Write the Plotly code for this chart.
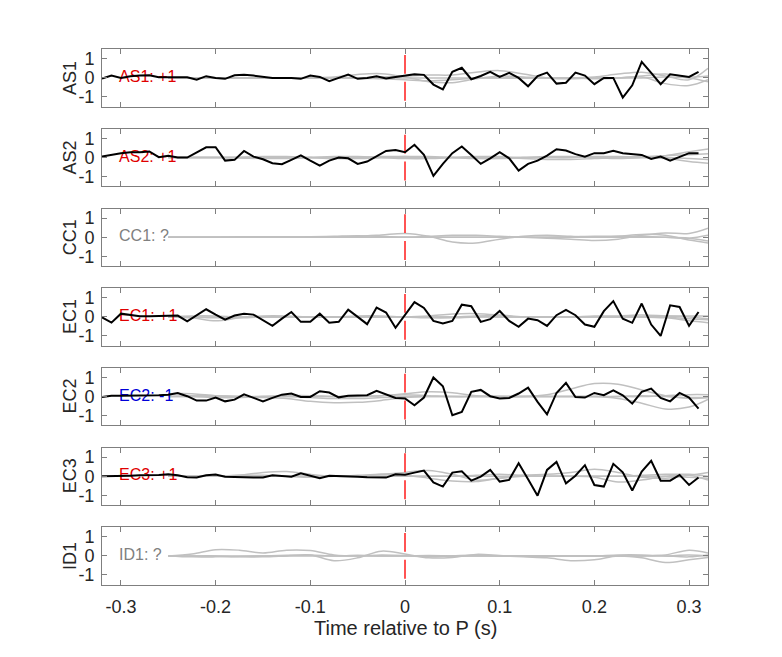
import plotly.graph_objects as go

# station names and polarity labels
stations = ["AS1", "AS2", "CC1", "EC1", "EC2", "EC3", "ID1"]
labels = ["AS1: +1", "AS2: +1", "CC1: ?", "EC1: +1", "EC2: -1", "EC3: +1", "ID1: ?"]
label_colors = ["#e00000", "#e00000", "#808080", "#e00000", "#0000d8", "#e00000", "#808080"]

# black trace time axis (s), every 0.01 from -0.32 to 0.31
t_black = [-0.32, -0.31, -0.30, -0.29, -0.28, -0.27, -0.26, -0.25, -0.24, -0.23, -0.22,
           -0.21, -0.20, -0.19, -0.18, -0.17, -0.16, -0.15, -0.14, -0.13, -0.12, -0.11,
           -0.10, -0.09, -0.08, -0.07, -0.06, -0.05, -0.04, -0.03, -0.02, -0.01,
           0.00, 0.01, 0.02, 0.03, 0.04, 0.05, 0.06, 0.07, 0.08, 0.09, 0.10, 0.11,
           0.12, 0.13, 0.14, 0.15, 0.16, 0.17, 0.18, 0.19, 0.20, 0.21, 0.22, 0.23,
           0.24, 0.25, 0.26, 0.27, 0.28, 0.29, 0.30, 0.31]

as1_black = [-0.03, 0.12, 0.0, 0.09, 0.12, 0.14, 0.03, 0.03, 0.03, 0.03, -0.09,
             0.09, 0.0, -0.05, 0.14, 0.17, 0.12, 0.05, 0.0, 0.0, 0.0, -0.05,
             0.12, 0.05, -0.17, 0.0, 0.17, -0.05, 0.0, 0.09, -0.03, 0.05,
             0.1, 0.19, 0.16, -0.35, -0.6, 0.32, 0.53, -0.07, 0.1, 0.32, 0.05, 0.26,
             0.0, -0.44, 0.1, 0.28, -0.3, -0.25, 0.28, 0.12, -0.33, 0.0, 0.0, -1.03,
             -0.39, 0.84, 0.26, -0.33, 0.19, 0.12, 0.05, 0.32]

as2_black = [0.05, 0.14, 0.23, 0.28, 0.28, 0.32, 0.02, 0.1, 0.0, 0.0, 0.27,
             0.54, 0.54, -0.16, -0.12, 0.35, 0.05, -0.09, -0.3, -0.35, -0.12, 0.12,
             -0.16, -0.42, -0.16, 0.0, -0.04, -0.33, -0.21, 0.05, 0.35, 0.4,
             0.28, 0.67, 0.14, -0.96, -0.33, 0.23, 0.58, 0.14, -0.33, -0.04, 0.28, -0.04,
             -0.68, -0.33, -0.16, 0.1, 0.44, 0.37, 0.18, 0.05, 0.23, 0.23, 0.35, 0.23,
             0.18, 0.14, -0.07, 0.05, -0.16, 0.02, 0.23, 0.23]

ec1_black = [-0.03, -0.3, 0.17, 0.09, 0.03, 0.03, 0.05, 0.07, 0.07, -0.23, 0.09,
             0.4, 0.12, -0.14, 0.07, 0.16, 0.12, -0.17, -0.47, -0.09, 0.26, -0.26,
             -0.26, 0.17, -0.31, -0.26, 0.38, 0.0, -0.38, 0.49, 0.23, -0.57,
             0.1, 0.78, 0.47, -0.21, -0.35, -0.21, 0.64, 0.56, -0.26, -0.12, 0.31, -0.21,
             -0.52, -0.09, -0.17, -0.47, 0.09, 0.37, 0.09, -0.4, -0.52, 0.3, 0.83, -0.09,
             -0.31, 0.7, -0.4, -1.0, 0.61, 0.52, -0.47, 0.26]

ec2_black = [-0.02, 0.04, 0.04, 0.04, 0.05, 0.05, 0.07, 0.1, 0.19, 0.02, -0.21,
             -0.21, -0.05, -0.25, -0.16, 0.12, -0.05, -0.25, -0.07, 0.1, 0.16, -0.02,
             -0.02, 0.28, 0.21, -0.04, 0.04, 0.05, 0.07, 0.3, 0.1, -0.07,
             -0.1, -0.46, -0.05, 1.0, 0.54, -0.98, -0.81, 0.25, 0.35, 0.02, -0.1, -0.07,
             0.16, 0.47, -0.28, -0.93, 0.19, 0.72, -0.02, -0.05, 0.19, 0.07, 0.33, 0.07,
             -0.37, 0.25, 0.42, -0.07, -0.25, 0.19, -0.05, -0.63]

ec3_black = [0.0, 0.0, 0.02, 0.03, 0.05, 0.05, 0.07, 0.1, 0.05, -0.05, -0.07,
             0.05, 0.09, -0.02, -0.05, -0.05, -0.07, -0.07, 0.05, 0.02, -0.02, 0.16,
             0.02, -0.1, 0.03, 0.02, -0.02, -0.02, -0.05, -0.05, -0.07, 0.1,
             0.08, 0.19, 0.3, -0.32, -0.54, 0.19, 0.26, -0.23, -0.02, 0.33, -0.28, -0.19,
             0.68, -0.16, -1.02, 0.33, 0.75, -0.37, 0.03, 0.58, -0.46, -0.54, 0.65, 0.21,
             -0.75, 0.25, 0.81, -0.23, -0.23, 0.07, -0.46, -0.07]

black = {"AS1": as1_black, "AS2": as2_black, "EC1": ec1_black,
         "EC2": ec2_black, "EC3": ec3_black}

# grey traces: knots every 0.025 s from -0.25 to 0.32
t_grey = [-0.25, -0.225, -0.2, -0.175, -0.15, -0.125, -0.1, -0.075, -0.05, -0.025, 0.0,
          0.025, 0.05, 0.075, 0.1, 0.125, 0.15, 0.175, 0.2, 0.225, 0.25, 0.275, 0.3, 0.32]

as1_grey = [
    [0, 0, 0, 0, 0, 0, 0.02, 0.05, 0.18, 0.22, 0.05, -0.2, -0.25, -0.05, 0.1, 0.05, 0, 0, 0.05, 0.2, 0.3, 0.1, -0.1, 0.5],
    [0, 0, 0, 0, 0, 0, 0, 0, 0, 0.05, 0.1, 0.15, 0.15, 0.3, 0.38, 0.2, 0, -0.05, 0, 0, 0.05, -0.3, -0.4, -0.1],
    [0, 0, 0, 0, 0, 0, 0, 0, 0, -0.05, -0.1, -0.15, -0.1, 0, 0, 0, 0, 0, -0.05, 0, 0.1, 0.2, 0.05, 0.1],
    [0, 0, 0, 0, 0, 0, 0, 0, 0, 0, 0, 0, 0, 0, 0, 0, 0, 0, 0, 0, 0, 0.05, 0, -0.2],
]
as2_grey = [
    [0, 0, 0, 0.02, 0.05, 0.05, 0, -0.05, -0.05, 0, 0.05, 0.05, 0, -0.05, -0.05, 0, 0.05, 0.05, 0, -0.05, 0, 0.1, 0.3, 0.45],
    [0, 0, 0, -0.02, -0.05, -0.05, 0, 0.05, 0.05, 0, -0.05, -0.05, 0, 0.05, 0.05, -0.05, -0.1, -0.1, -0.05, 0, 0, -0.05, -0.2, -0.3],
    [0, 0, 0, 0, 0, 0, 0, 0, 0, 0.05, 0.05, 0, 0, 0, 0, 0, 0, 0, 0.05, 0.05, 0.05, 0.1, 0.15, 0.2],
    [0, 0, 0, 0, 0, 0, 0, 0, 0, 0, 0, 0, 0, 0, 0, 0, 0, 0, 0, 0, 0, 0, -0.05, -0.1],
]
cc1_grey = [
    [0, 0, 0, 0, 0, 0, 0, 0.02, 0.05, 0.12, 0.2, 0.05, -0.25, -0.3, -0.1, 0.05, 0.1, 0.05, 0, 0.05, 0.15, 0.1, -0.15, -0.3],
    [0, 0, 0, 0, 0, 0, 0.02, 0.05, 0.08, 0.05, 0, 0.05, 0.1, 0.1, 0.05, 0, -0.05, -0.1, -0.17, -0.1, 0.1, 0.22, 0.2, 0.47],
    [0, 0, 0, 0.02, 0.03, 0.03, 0, 0, 0, 0, 0, 0, 0, 0, 0, 0, 0, 0, 0, 0, 0, 0, -0.05, -0.2],
    [0, 0, 0, 0, 0, 0, 0, 0, 0, 0, 0, 0, 0, 0, 0, 0, 0, 0.02, 0.05, 0.05, 0.05, 0, -0.05, 0.1],
]
ec1_grey = [
    [0, -0.05, -0.2, -0.05, 0.05, 0.05, 0, 0, 0, 0, 0, 0.05, 0.15, 0.17, 0.1, 0, 0, 0, 0, 0, 0, -0.05, -0.2, -0.3],
    [0, 0.05, 0.05, 0, 0, 0, 0, 0, 0.05, 0.05, 0, 0, 0, 0.05, 0.05, 0, 0, 0, 0.05, 0.05, 0.1, 0.05, 0, -0.1],
    [0, 0, -0.05, -0.05, 0, 0, 0, 0, 0, 0, 0, -0.05, -0.05, 0, 0, 0, 0, 0, 0, 0, 0, 0, -0.1, -0.15],
    [0, 0, 0, 0, 0, 0, 0, 0, 0, 0, 0, 0, 0, 0, 0, 0, 0, 0, 0, 0, 0, 0.05, 0.05, 0.05],
]
ec2_grey = [
    [0, 0.05, 0.05, 0, 0, 0, 0, 0, 0, 0.05, 0.15, 0.25, 0.2, 0.05, 0, 0, 0.1, 0.4, 0.68, 0.65, 0.35, 0.05, -0.1, -0.05],
    [0, 0, 0, 0, -0.05, -0.1, -0.25, -0.32, -0.3, -0.2, -0.05, 0, 0, 0, 0, 0, 0, 0, 0, -0.1, -0.35, -0.65, -0.55, -0.15],
    [0.15, 0.15, 0.05, 0, 0, 0.05, 0.05, 0, 0, 0.05, 0.1, 0.05, 0, 0, 0, 0, 0, 0, 0, 0, 0, 0.05, 0.1, 0.1],
    [0, 0, -0.05, -0.05, 0, 0, -0.05, -0.1, -0.1, -0.05, 0, 0, 0, 0, 0, 0, 0, 0, 0, 0, 0.05, 0, -0.05, -0.05],
]
ec3_grey = [
    [0, 0, 0, 0.05, 0.2, 0.25, 0.1, 0, 0, 0.1, 0.2, 0.3, 0.1, -0.2, -0.1, 0.05, 0.1, 0.2, 0.37, 0.2, -0.05, -0.1, 0.05, 0.2],
    [0, 0, 0, 0, 0, 0, 0, 0, 0.05, 0.1, 0.05, -0.1, -0.25, -0.28, -0.1, 0, 0, 0, -0.05, -0.3, -0.2, 0, 0.05, -0.2],
    [0, 0, 0, 0.05, 0.05, 0, -0.05, 0, 0, 0, 0, 0, 0, 0.05, 0.1, 0.05, 0, 0, 0, 0, 0.05, 0.1, 0.1, 0],
    [0, 0, 0, 0, 0, 0, 0, 0, 0, 0, 0, 0, 0, 0, 0, 0, 0, 0, 0, 0, 0, 0, -0.05, -0.1],
]
id1_grey = [
    [0, 0.1, 0.33, 0.3, 0.15, 0.3, 0.28, 0.05, 0, 0.05, 0.02, -0.05, 0, 0.05, 0, 0, 0, 0, 0, 0, 0, 0.05, 0.3, 0.15],
    [0, 0, 0, -0.05, -0.05, 0, 0.05, -0.25, -0.1, 0.25, 0.1, -0.1, -0.08, 0.08, 0.02, -0.05, -0.1, -0.25, -0.2, 0, -0.1, -0.35, -0.2, -0.08],
    [0, -0.05, -0.05, -0.03, 0, 0.03, 0.05, 0, 0.03, 0, 0, 0, 0, 0, 0, 0, 0, 0, 0, 0.05, 0.05, 0, -0.05, 0.05],
    [0, 0, 0, 0, 0, 0, 0, 0, 0, 0, 0, 0.02, 0, 0, 0, 0, 0, 0, 0, 0, 0, 0, 0.05, 0],
]
grey = {"AS1": as1_grey, "AS2": as2_grey, "CC1": cc1_grey, "EC1": ec1_grey,
        "EC2": ec2_grey, "EC3": ec3_grey, "ID1": id1_grey}

x_ticks = [-0.3, -0.2, -0.1, 0, 0.1, 0.2, 0.3]
x_ticktext = ["-0.3", "-0.2", "-0.1", "0", "0.1", "0.2", "0.3"]
y_ticks = [-1, 0, 1]
y_ticktext = ["-1", "0", "1"]

# page body has an 8px margin, so figure coords = screenshot coords - 8
W, H = 782, 657
left, right = 94, 700
top0, step, ph = 41.3, 79.67, 57.2
font = "Liberation Sans, Arial, Helvetica, sans-serif"

fig = go.Figure()
annotations = []
n = len(stations)
for i, st in enumerate(stations):
    xa = "x" if i == 0 else f"x{i+1}"
    ya = "y" if i == 0 else f"y{i+1}"
    for g in grey[st]:
        fig.add_trace(go.Scatter(x=t_grey, y=g, xaxis=xa, yaxis=ya, mode="lines",
                                 line=dict(color="#c0c0c0", width=1.5, shape="spline"),
                                 showlegend=False, hoverinfo="skip"))
    fig.add_trace(go.Scatter(x=[-0.302], y=[0], xaxis=xa, yaxis=ya, mode="text",
                             text=[labels[i]], textposition="middle right",
                             textfont=dict(family=font, size=16, color=label_colors[i]),
                             showlegend=False, hoverinfo="skip"))
    fig.add_trace(go.Scatter(x=[0, 0], y=[-1.2, 1.2], xaxis=xa, yaxis=ya, mode="lines",
                             line=dict(color="#ff1a1a", width=1.5, dash="19px,8px"),
                             showlegend=False, hoverinfo="skip"))
    if st in black:
        fig.add_trace(go.Scatter(x=t_black, y=black[st], xaxis=xa, yaxis=ya, mode="lines",
                                 line=dict(color="black", width=2),
                                 showlegend=False, hoverinfo="skip"))

    top = top0 + step * i
    dom_y = [1 - (top + ph) / H, 1 - top / H]
    fig.layout[f"xaxis{'' if i == 0 else i+1}"] = dict(
        domain=[left / W, right / W], range=[-0.32, 0.32], anchor=ya,
        tickvals=x_ticks, ticktext=x_ticktext, showticklabels=(i == n - 1),
        ticks="inside", ticklen=5, tickcolor="#7f7f7f", showline=True, mirror="ticks",
        linecolor="#7f7f7f", linewidth=1, showgrid=False, zeroline=False,
        tickfont=dict(family=font, size=18, color="#262626"), ticklabelstandoff=6)
    fig.layout[f"yaxis{'' if i == 0 else i+1}"] = dict(
        domain=dom_y, range=[-1.5, 1.5], anchor=xa,
        tickvals=y_ticks, ticktext=y_ticktext,
        ticks="inside", ticklen=5, tickcolor="#7f7f7f", showline=True, mirror="ticks",
        linecolor="#7f7f7f", linewidth=1, showgrid=False, zeroline=False,
        tickfont=dict(family=font, size=18, color="#262626"), ticklabelstandoff=3)
    annotations.append(dict(text=st, x=62 / W, y=1 - (top + ph / 2) / H, xref="paper", yref="paper",
                            textangle=-90, showarrow=False, xanchor="center", yanchor="middle",
                            font=dict(family=font, size=18, color="#262626")))

annotations.append(dict(text="Time relative to P (s)", x=(left + right) / 2 / W, y=1 - 620 / H,
                        xref="paper", yref="paper", showarrow=False, xanchor="center",
                        yanchor="middle", font=dict(family=font, size=20, color="#262626")))

fig.update_layout(width=W, height=H, margin=dict(l=0, r=0, t=0, b=0),
                  plot_bgcolor="white", paper_bgcolor="white",
                  annotations=annotations, showlegend=False)

fig.write_html("out.html")
